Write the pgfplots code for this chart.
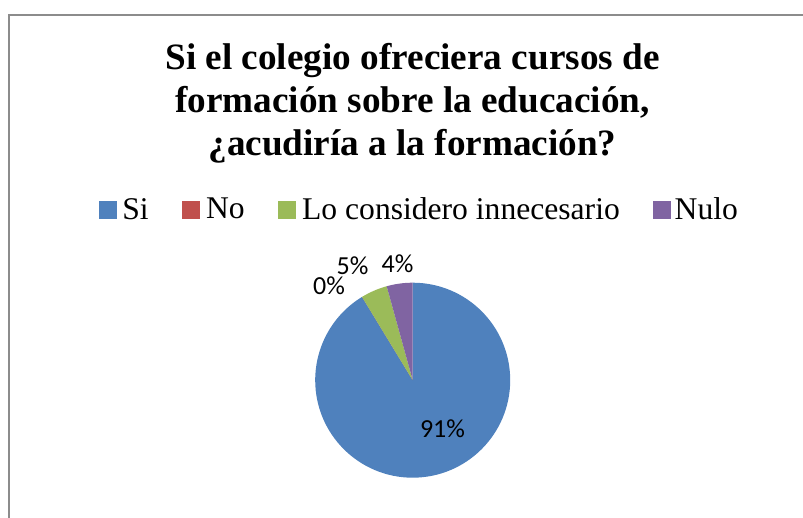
\documentclass[border=0pt]{standalone}
\usepackage{fontspec}
\setmainfont{Liberation Serif}
\newfontfamily\carlito{Carlito}
\usepackage{pgfplots}
\usepackage{pgfplotstable}
\pgfplotsset{compat=1.18}
\definecolor{cSi}{HTML}{4F81BD}
\definecolor{cNo}{HTML}{C0504D}
\definecolor{cLo}{HTML}{9BBB59}
\definecolor{cNu}{HTML}{8064A2}
\definecolor{frame}{HTML}{8C8C8C}
\pgfplotstableread[col sep=comma]{
label,value
Si,91.3
No,0
Lo considero innecesario,4.4
Nulo,4.3
}\piedata
\pgfplotstablegetelem{0}{value}\of\piedata \let\vA\pgfplotsretval
\pgfplotstablegetelem{1}{value}\of\piedata \let\vB\pgfplotsretval
\pgfplotstablegetelem{2}{value}\of\piedata \let\vC\pgfplotsretval
\pgfplotstablegetelem{3}{value}\of\piedata \let\vD\pgfplotsretval
\pgfmathsetmacro\aO{90}
\pgfmathsetmacro\aA{\aO-3.6*\vA}
\pgfmathsetmacro\aB{\aA-3.6*\vB}
\pgfmathsetmacro\aC{\aB-3.6*\vC}
\pgfmathsetmacro\aD{\aC-3.6*\vD}
\begin{document}%
\begin{tikzpicture}
\begin{axis}[
  width=803pt, height=518pt, scale only axis,
  xmin=0, xmax=803, ymin=0, ymax=518, y dir=reverse,
  hide axis, clip=false,
  legend style={at={(axis cs:98.3,209.3)}, anchor=west, draw=none, fill=none,
    font=\fontsize{31.6}{36}\selectfont, legend columns=-1,
    /tikz/every even column/.append style={column sep=33.5pt},
    inner sep=0pt, nodes={inner sep=0pt, outer sep=0pt}},
  legend image code/.code={\fill[#1] (0pt,-8.5pt) rectangle (17pt,8.5pt);},
  legend cell align=left,
]
\coordinate (TL) at (axis cs:0,0);
\coordinate (BR) at (axis cs:803,518);
\draw[frame, line width=1.5pt] (axis cs:9,518) -- (axis cs:9,15) -- (axis cs:803,15);
% title
\node[anchor=base, font=\fontsize{37.2}{43}\selectfont\bfseries] at (axis cs:412.5,70) {Si el colegio ofreciera cursos de};
\node[anchor=base, font=\fontsize{37.2}{43}\selectfont\bfseries] at (axis cs:412.5,113) {formación sobre la educación,};
\node[anchor=base, font=\fontsize{37.2}{43}\selectfont\bfseries] at (axis cs:412.5,156) {¿acudiría a la formación?};
% legend
\addlegendimage{cSi}\addlegendentry{\hspace{6.5pt}Si}
\addlegendimage{cNo}\addlegendentry{\hspace{6.5pt}No}
\addlegendimage{cLo}\addlegendentry{\hspace{6.5pt}Lo considero innecesario}
\addlegendimage{cNu}\addlegendentry{\hspace{4pt}Nulo}
% pie
\fill[cSi] (axis cs:412.7,380.2) -- ++(\aO:97.5pt) arc[start angle=\aO, end angle=\aA, radius=97.5pt] -- cycle;
\fill[cNo] (axis cs:412.7,380.2) -- ++(\aA:97.5pt) arc[start angle=\aA, end angle=\aB, radius=97.5pt] -- cycle;
\fill[cLo] (axis cs:412.7,380.2) -- ++(\aB:97.5pt) arc[start angle=\aB, end angle=\aC, radius=97.5pt] -- cycle;
\fill[cNu] (axis cs:412.7,380.2) -- ++(\aC:97.5pt) arc[start angle=\aC, end angle=\aD, radius=97.5pt] -- cycle;
% data labels
\node[font=\carlito\fontsize{26}{30}\selectfont] at (axis cs:442.5,428.7) {91\%};
\node[font=\carlito\fontsize{26}{30}\selectfont] at (axis cs:329,285.3) {0\%};
\node[font=\carlito\fontsize{26}{30}\selectfont] at (axis cs:352.5,266.2) {5\%};
\node[font=\carlito\fontsize{26}{30}\selectfont] at (axis cs:397.5,264) {4\%};
\end{axis}
\pgfresetboundingbox
\useasboundingbox (TL) rectangle (BR);
\end{tikzpicture}%
\end{document}
